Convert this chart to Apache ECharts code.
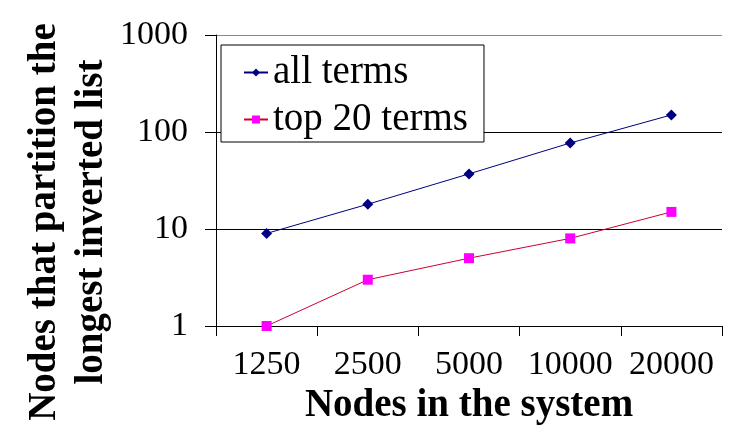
<!DOCTYPE html>
<html><head><meta charset="utf-8">
<script src="https://cdn.jsdelivr.net/npm/echarts@6/dist/echarts.min.js"></script>
<style>html,body{margin:0;padding:0;background:#fff}#c{width:748px;height:434px}</style>
</head><body><div id="c"></div>
<script>
var categories = ['1250', '2500', '5000', '10000', '20000'];
var allTerms = [9, 18, 37, 77, 150];
var top20Terms = [1, 3, 5, 8, 15];
var seriesNames = ['all terms', 'top 20 terms'];
var xTitle = 'Nodes in the system';
var yTitle = 'Nodes that partition the\nlongest inverted list';

var font = '"Liberation Serif", "DejaVu Serif", serif';
var chart = echarts.init(document.getElementById('c'), null, {renderer: 'canvas'});
chart.setOption({
  animation: false,
  backgroundColor: '#fff',
  grid: {left: 216, right: 26, top: 35, bottom: 108, containLabel: false},
  legend: {
    orient: 'vertical', left: 221, top: 45,
    backgroundColor: '#fff', borderColor: '#000', borderWidth: 1,
    padding: [8, 16, 3, 22], itemGap: 8, itemWidth: 24, itemHeight: 10,
    textStyle: {fontFamily: font, fontSize: 39, color: '#000'},
    data: seriesNames
  },
  xAxis: {
    type: 'category', data: categories, boundaryGap: true,
    axisLine: {lineStyle: {color: '#000', width: 1}},
    axisTick: {show: true, length: 10, lineStyle: {color: '#000'}},
    axisLabel: {fontFamily: font, fontSize: 34, color: '#000', margin: 22, interval: 0},
    name: xTitle, nameLocation: 'middle', nameGap: 58,
    nameTextStyle: {fontFamily: font, fontSize: 39, fontWeight: 'bold', color: '#000'}
  },
  yAxis: {
    type: 'log', logBase: 10, min: 1, max: 1000,
    axisLine: {show: true, lineStyle: {color: '#000', width: 1}},
    axisTick: {show: true, length: 11, lineStyle: {color: '#000'}},
    minorTick: {show: false},
    axisLabel: {fontFamily: font, fontSize: 34, color: '#000', margin: 28,
      formatter: function (v) { return String(Math.round(v)); }},
    splitLine: {show: true, lineStyle: {color: ['#000', '#000', '#000', '#888'], width: 1}}
  },
  graphic: [{
    type: 'text', x: 68, y: 222, rotation: Math.PI / 2,
    style: {text: yTitle, font: 'bold 39px ' + font, fill: '#000',
      align: 'center', verticalAlign: 'middle', textAlign: 'center', textVerticalAlign: 'middle', lineHeight: 47}
  }],
  series: [
    {name: seriesNames[0], type: 'line', data: allTerms, symbol: 'diamond', symbolSize: 11,
     lineStyle: {color: '#000080', width: 1}, itemStyle: {color: '#000080'}},
    {name: seriesNames[1], type: 'line', data: top20Terms, symbol: 'rect', symbolSize: 10,
     lineStyle: {color: '#cc0033', width: 1}, itemStyle: {color: '#ff00ff'}}
  ]
});
</script></body></html>
